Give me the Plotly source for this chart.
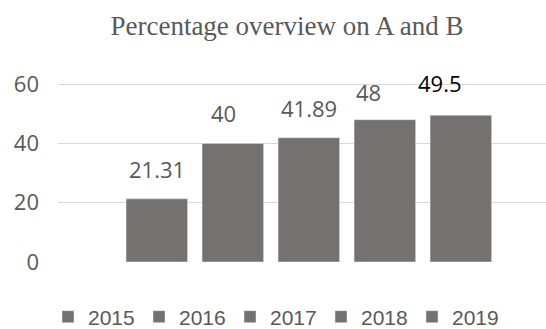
import plotly.graph_objects as go

years = ["2015", "2016", "2017", "2018", "2019"]
values = [21.31, 40, 41.89, 48, 49.5]
labels = ["21.31", "40", "41.89", "48", "49.5"]
y_ticks = [0, 20, 40, 60]

# styles
bar_color = "#767171"
label_colors = ["#595959", "#595959", "#595959", "#595959", "#000000"]
label_xshift = [0, -9, 0, -16, -21]
label_yshift = [13, 13, 13, 11, 15]
font_sans = "Open Sans"
grey = "#595959"

fig = go.Figure()
for yr, v in zip(years, values):
    fig.add_trace(go.Bar(x=[yr], y=[v], name=yr, marker_color=bar_color,
                         width=0.81, showlegend=True))

for i, (v, t) in enumerate(zip(values, labels)):
    fig.add_annotation(x=i, y=v, text=t, showarrow=False, yanchor="bottom",
                       xanchor="center", xshift=label_xshift[i], yshift=label_yshift[i],
                       font=dict(family=font_sans, size=22, color=label_colors[i]))

fig.update_layout(
    width=546, height=329,
    margin=dict(l=58, r=0, t=82, b=67, pad=0),
    paper_bgcolor="white", plot_bgcolor="white",
    barmode="overlay",
    title=dict(text="Percentage overview on A and B", xref="container", x=287/546,
               xanchor="center", yref="container", y=1-26/329, yanchor="middle",
               font=dict(family="Liberation Serif", size=27, color=grey)),
    xaxis=dict(type="category", categoryorder="array", categoryarray=years,
               range=[-1.30, 5.12], showticklabels=False, showgrid=False,
               zeroline=False, showline=False, ticks=""),
    yaxis=dict(range=[0, 60.7], tickvals=y_ticks, showgrid=True, gridcolor="#D9D9D9",
               gridwidth=1.3, zeroline=False, showline=False, ticks="",
               ticklabelstandoff=18,
               tickfont=dict(family=font_sans, size=22, color=grey)),
    legend=dict(orientation="h", xref="container", yref="container",
                x=48/546, xanchor="left", y=1-317/329, yanchor="middle",
                font=dict(family="Liberation Sans", size=21, color=grey),
                entrywidth=46, entrywidthmode="pixels", traceorder="normal",
                bgcolor="rgba(0,0,0,0)"),
    showlegend=True,
)

fig.write_html("out.html")
